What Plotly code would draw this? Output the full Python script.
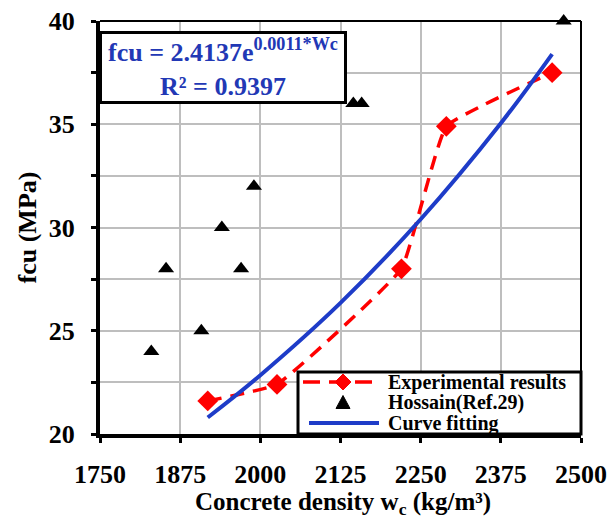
import plotly.graph_objects as go

# ---- data ----
exp_x = [1918, 2026, 2220, 2290, 2455]
exp_y = [21.6, 22.4, 28.0, 34.9, 37.5]

hos_x = [1830, 1853, 1908, 1940, 1970, 1990, 2145, 2158, 2473]
hos_y = [24, 28, 25, 30, 28, 32, 36, 36, 40]

fit_x = [1918, 2000, 2125, 2250, 2375, 2455]
fit_y = [20.8, 22.85, 26.35, 30.4, 35.05, 38.4]

x_ticks = [1750, 1875, 2000, 2125, 2250, 2375, 2500]
y_ticks = [20, 25, 30, 35, 40]

legend_names = ["Experimental results", "Hossain(Ref.29)", "Curve fitting"]

FONT = "Liberation Serif"
RED = "#FF0000"
BLUE = "#1E3CC8"
TXTBLUE = "#2238B5"

# plot area in pixels (for the hand-drawn legend)
W, H = 609, 520
ML, MR, MT, MB = 100, 28, 21, 86
PW, PH = W - ML - MR, H - MT - MB


def px_x(p):
    return (p - ML) / PW


def px_y(p):
    return (H - MB - p) / PH


fig = go.Figure()

fig.add_trace(go.Scatter(
    x=exp_x, y=exp_y, mode="lines+markers", name=legend_names[0],
    line=dict(color=RED, width=3.5, dash="14px,9px", shape="spline", smoothing=0.3),
    marker=dict(symbol="diamond", size=16, color=RED),
))
fig.add_trace(go.Scatter(
    x=hos_x, y=hos_y, mode="markers", name=legend_names[1],
    marker=dict(symbol="triangle-up", size=14, color="black"),
    cliponaxis=False,
))
fig.add_trace(go.Scatter(
    x=fit_x, y=fit_y, mode="lines", name=legend_names[2],
    line=dict(color=BLUE, width=4, shape="spline"),
))

axis_common = dict(
    showline=True, linecolor="black", linewidth=4,
    ticks="outside", ticklen=5, tickwidth=3, tickcolor="black",
    showgrid=True, gridcolor="#BEBEBE", gridwidth=2,
    zeroline=False, automargin=False,
    tickfont=dict(family=FONT, size=26, color="black", weight="bold"),
)

fig.update_xaxes(
    range=[1750, 2500], tickvals=x_ticks,
    ticktext=[str(v) for v in x_ticks],
    ticklabelstandoff=9,
    **axis_common,
)
fig.update_yaxes(
    range=[20, 40], tickvals=y_ticks,
    ticktext=[str(v) for v in y_ticks],
    ticklabelstandoff=11,
    minor=dict(dtick=2.5, tick0=20, showgrid=True, gridcolor="#BEBEBE", gridwidth=2,
               ticks="outside", ticklen=5, tickwidth=3, tickcolor="black"),
    title=dict(text="<b>fcu (MPa)</b>",
               font=dict(family=FONT, size=26, color="black"), standoff=6),
    **axis_common,
)

# x-axis title
fig.add_annotation(
    xref="paper", yref="paper", x=px_x(343), y=px_y(520),
    xanchor="center", yanchor="bottom", showarrow=False,
    text="<b>Concrete density w<sub>c</sub> (kg/m³)</b>",
    font=dict(family=FONT, size=25, color="black"), borderpad=0,
)

# thin top / right frame
fig.add_shape(type="line", xref="paper", yref="paper", x0=0, x1=1, y0=1, y1=1,
              line=dict(color="black", width=2), layer="above")
fig.add_shape(type="line", xref="paper", yref="paper", x0=1, x1=1, y0=0, y1=1,
              line=dict(color="black", width=2), layer="above")

# equation box
fig.add_annotation(
    xref="paper", yref="paper", x=px_x(99), y=px_y(31), xanchor="left", yanchor="top",
    text="<b>fcu = 2.4137e<sup>0.0011*Wc</sup><br>R² = 0.9397</b>",
    showarrow=False, align="center", width=242,
    font=dict(family=FONT, size=26, color=TXTBLUE),
    bgcolor="white", bordercolor="black", borderwidth=3, borderpad=0,
)

# ---- hand-drawn compact legend ----
fig.add_shape(type="rect", xref="paper", yref="paper",
              x0=px_x(298), x1=1, y0=0, y1=px_y(372),
              line=dict(color="black", width=3), fillcolor="white", layer="above")
rows = [382, 402.5, 423]
# red dashed sample + diamond
fig.add_shape(type="line", xref="paper", yref="paper",
              x0=px_x(303), x1=px_x(374), y0=px_y(rows[0]), y1=px_y(rows[0]),
              line=dict(color=RED, width=3.5, dash="17px,9px"), layer="above")
fig.add_shape(type="path", xref="paper", yref="paper",
              xsizemode="pixel", ysizemode="pixel",
              xanchor=px_x(343), yanchor=px_y(rows[0]),
              path="M -8,0 L 0,8 L 8,0 L 0,-8 Z",
              fillcolor=RED, line=dict(color=RED, width=1), layer="above")
# black triangle
fig.add_shape(type="path", xref="paper", yref="paper",
              xsizemode="pixel", ysizemode="pixel",
              xanchor=px_x(343), yanchor=px_y(rows[1]),
              path="M -7,-6 L 7,-6 L 0,7 Z",
              fillcolor="black", line=dict(color="black", width=1), layer="above")
# blue line sample
fig.add_shape(type="line", xref="paper", yref="paper",
              x0=px_x(309), x1=px_x(379), y0=px_y(rows[2]), y1=px_y(rows[2]),
              line=dict(color=BLUE, width=4), layer="above")
for name, ry in zip(legend_names, rows):
    fig.add_annotation(
        xref="paper", yref="paper", x=px_x(386), y=px_y(ry),
        xanchor="left", yanchor="middle", showarrow=False,
        text=f"<b>{name}</b>",
        font=dict(family=FONT, size=20, color="black"),
    )

fig.update_layout(
    width=W, height=H,
    margin=dict(l=ML, r=MR, t=MT, b=MB),
    paper_bgcolor="white", plot_bgcolor="white",
    showlegend=False,
)

fig.write_html("out.html")
